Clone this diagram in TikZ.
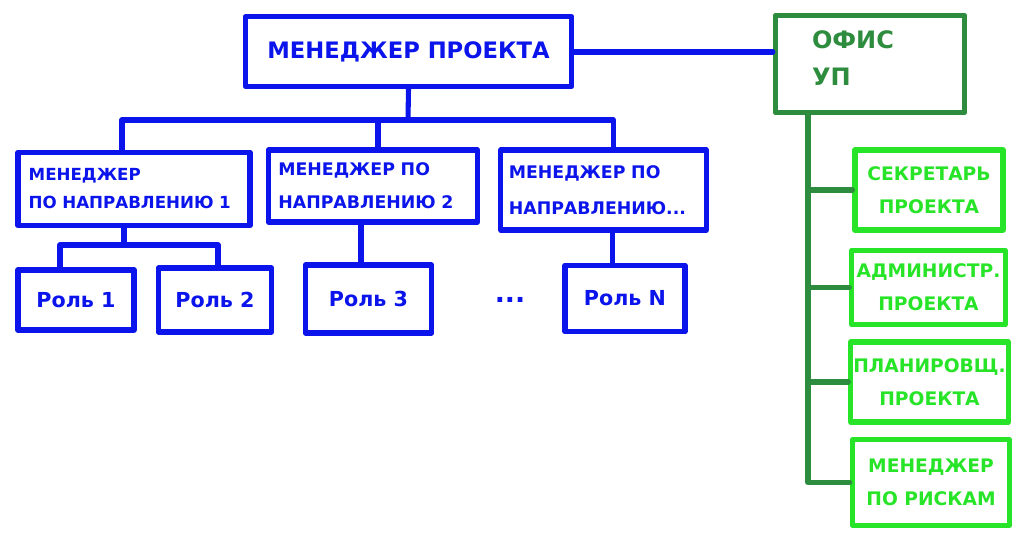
\documentclass[tikz,border=0pt]{standalone}
\usepackage{fontspec}
\setmainfont{DejaVu Sans}
\usetikzlibrary{calc}
\definecolor{pblue}{RGB}{10,20,235}
\definecolor{dgreen}{RGB}{46,140,62}
\definecolor{lgreen}{RGB}{40,228,40}
\tikzset{
  box/.style={draw, line width=3.8pt, line join=round, inner sep=0pt, font=\bfseries},
  bluebox/.style={box, draw=pblue, text=pblue},
  greenbox/.style={box, draw=lgreen, text=lgreen, align=center, font=\bfseries\fontsize{14}{25}\selectfont},
  officebox/.style={box, draw=dgreen, text=dgreen},
  bline/.style={draw=pblue, line width=3.8pt, line cap=round, line join=round},
  gline/.style={draw=dgreen, line width=3.8pt, line cap=round, line join=round},
  dirbox/.style={bluebox, align=left},
  rolebox/.style={bluebox, font=\bfseries\fontsize{15.5}{18}\selectfont},
}
\begin{document}
\begin{tikzpicture}[x=0.75pt,y=-0.75pt]
\fill[white] (0,0) rectangle (1024,541);
\useasboundingbox (0,0) rectangle (1024,541);

% top manager
\node[bluebox, minimum width=245pt, minimum height=52pt, font=\bfseries\fontsize{17}{22}\selectfont] (top) at (408.5,51.5) {МЕНЕДЖЕР ПРОЕКТА};
% office
\node[officebox, minimum width=142pt, minimum height=73pt, text width=87pt, text height=13pt, text depth=36pt, align=left, font=\bfseries\fontsize{18}{28}\selectfont] (office) at (870,64) {ОФИС\\УП};

% direction managers
\node[dirbox, minimum width=174pt, minimum height=55pt, text width=158pt, font=\bfseries\fontsize{12.5}{21}\selectfont] (d1) at (134,189) {МЕНЕДЖЕР\\ПО НАПРАВЛЕНИЮ 1};
\node[dirbox, minimum width=157pt, minimum height=54pt, text width=142pt, font=\bfseries\fontsize{13}{25}\selectfont] (d2) at (373,186) {МЕНЕДЖЕР ПО\\НАПРАВЛЕНИЮ 2};
\node[dirbox, minimum width=154pt, minimum height=60pt, text width=142pt, font=\bfseries\fontsize{13}{27}\selectfont] (d3) at (603.5,190) {МЕНЕДЖЕР ПО\\НАПРАВЛЕНИЮ...};

% roles
\node[rolebox, minimum width=87pt, minimum height=45pt] (r1) at (76,300) {Роль 1};
\node[rolebox, minimum width=85pt, minimum height=48pt] (r2) at (215,300) {Роль 2};
\node[rolebox, minimum width=95pt, minimum height=51pt] (r3) at (368.5,299) {Роль 3};
\node[text=pblue, font=\bfseries\fontsize{20}{20}\selectfont] (dots) at (510,300) {...};
\node[rolebox, minimum width=90pt, minimum height=50pt] (rN) at (625,298.5) {Роль N};

% office staff
\node[greenbox, minimum width=111pt, minimum height=60pt] (sec) at (929,190) {СЕКРЕТАРЬ\\ПРОЕКТА};
\node[greenbox, minimum width=115pt, minimum height=56pt] (adm) at (928.5,287.5) {АДМИНИСТР.\\ПРОЕКТА};
\node[greenbox, minimum width=118pt, minimum height=60pt] (plan) at (929.5,382) {ПЛАНИРОВЩ.\\ПРОЕКТА};
\node[greenbox, minimum width=118pt, minimum height=64pt] (risk) at (931,482.5) {МЕНЕДЖЕР\\ПО РИСКАМ};

% blue connectors
\coordinate (offin) at (office.west |- 0,52);
\draw[bline] (top.east |- offin) -- (offin);
\coordinate (bus) at (408,120);
\draw[bline] (top.south) -- (bus);
\coordinate (d1top) at ($(d1.north)+(-12,0)$);
\coordinate (d2top) at ($(d2.north)+(5,0)$);
\coordinate (d3top) at ($(d3.north)+(10,0)$);
\draw[bline] (d1top) |- (bus);
\draw[bline] (d3top) |- (bus);
\draw[bline] (d2top) -- (d2top |- bus);

\coordinate (rbus) at (124,245);
\coordinate (r1top) at ($(r1.north)+(-16,0)$);
\coordinate (r2top) at ($(r2.north)+(3,0)$);
\draw[bline] (d1.south -| rbus) -- (rbus);
\draw[bline] (r1top) |- (rbus);
\draw[bline] (r2top) |- (rbus);
\coordinate (d2bot) at ($(d2.south)+(-12,0)$);
\coordinate (d3bot) at ($(d3.south)+(9,0)$);
\draw[bline] (d2bot) -- (d2bot |- r3.north);
\draw[bline] (d3bot) -- (d3bot |- rN.north);

% green connectors
\coordinate (spine) at ($(office.south)+(-62,0)$);
\draw[gline] (spine) |- (risk.west);
\draw[gline] (spine |- sec.west) -- (sec.west);
\draw[gline] (spine |- adm.west) -- (adm.west);
\draw[gline] (spine |- plan.west) -- (plan.west);
\end{tikzpicture}
\end{document}
